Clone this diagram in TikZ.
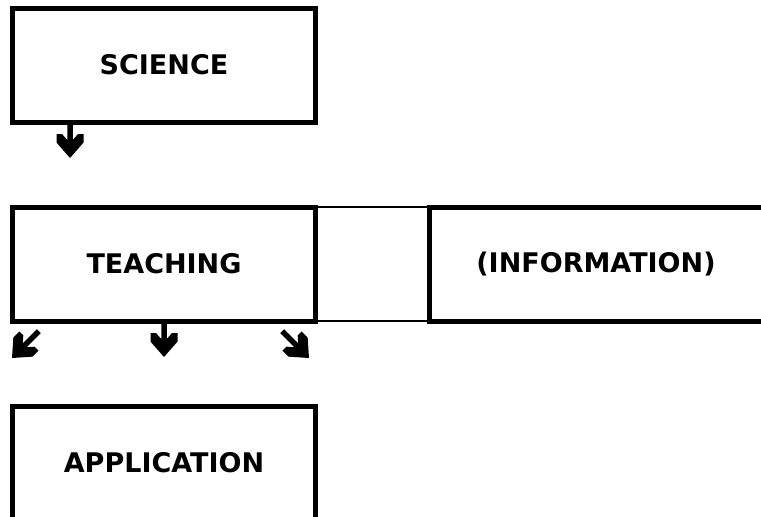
\documentclass[tikz,border=0pt]{standalone}
\usepackage{fontspec}
\setmainfont{DejaVu Sans}
\begin{document}
\begin{tikzpicture}[x=1pt,y=1pt,
  box/.style={draw, line width=5pt, minimum width=303pt, minimum height=114pt,
    inner sep=0pt, outer sep=0pt, font=\fontsize{27}{32}\selectfont\bfseries},
  link/.style={line width=1.8pt},
  pics/bigarrow/.style={code={
    \fill (-#1,-2.75) -- (-18,-2.75) -- (-24,-8) -- (-24,-13.5) -- (-15.4,-13.5) -- (0,0)
      -- (-15.4,13.5) -- (-24,13.5) -- (-24,8) -- (-18,2.75) -- (-#1,2.75) -- cycle;
  }}]
\useasboundingbox (0,0) rectangle (761,-517);
\begin{scope}
\clip (0,0) rectangle (761,-517);
\node[box] (sci) at (164,-65) {SCIENCE};
\node[box] (teach) at (164,-264) {TEACHING};
\node[box, minimum width=334pt] (info) at (596,-264) {(INFORMATION)};
\node[box] (app) at (164,-463) {APPLICATION};
\draw[link] (teach.north east) -- (info.north west);
\draw[link] (teach.south east) -- (info.south west);
\coordinate (t1) at (70,-158);
\coordinate (t2) at (164,-357);
\coordinate (t3) at (12,-358);
\coordinate (t4) at (309,-358);
\pic[rotate=-90] at (t1) {bigarrow=36};
\pic[rotate=-90] at (t2) {bigarrow=36};
\pic[rotate=225] at (t3) {bigarrow=38};
\pic[rotate=-45] at (t4) {bigarrow=38};
\end{scope}
\end{tikzpicture}
\end{document}
